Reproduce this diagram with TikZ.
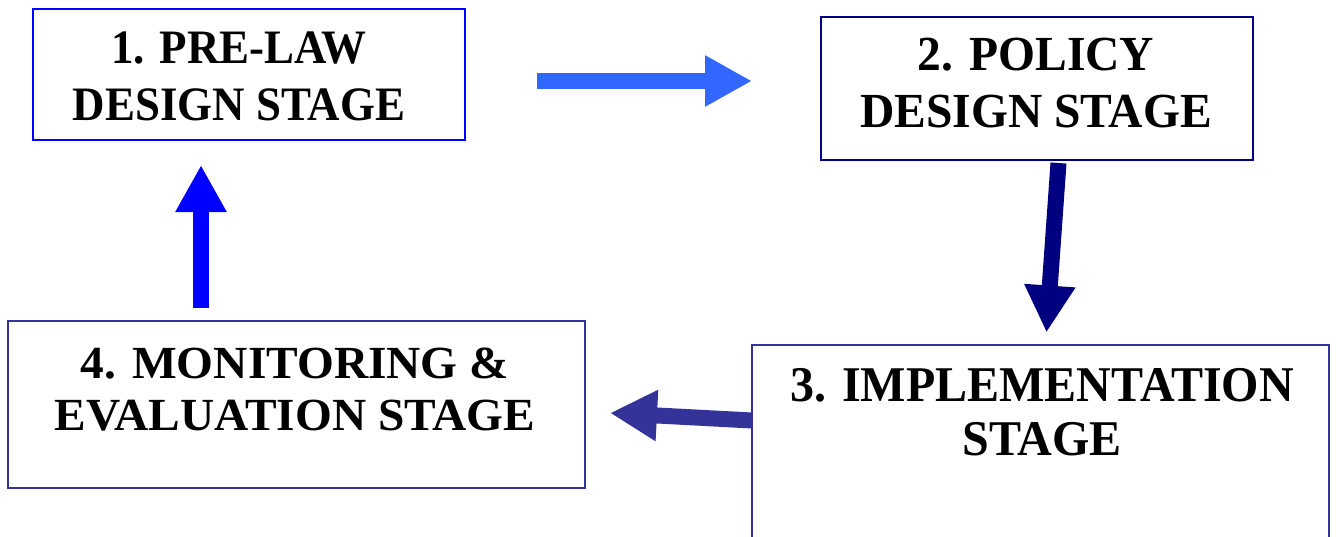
\documentclass[tikz,border=0pt]{standalone}
\usepackage{fontspec}
\setmainfont{Liberation Serif}
\usetikzlibrary{arrows.meta}
\definecolor{bluebox}{HTML}{0000FF}
\definecolor{navybox}{HTML}{000080}
\definecolor{indigobox}{HTML}{333399}
\definecolor{arrowone}{HTML}{3366FF}
\begin{document}
\begin{tikzpicture}[x=1pt,y=-1pt,
  box/.style={draw,line width=2pt,inner sep=0pt,outer sep=0pt,fill=white},
  stagetext/.style={anchor=base,inner sep=0pt,transform shape,font=\bfseries},
  bigarrow/.style={line width=16pt,-{Triangle[length=47pt,width=48pt]}}]
\useasboundingbox (0,0) rectangle (1336,536);
\clip (0,0) rectangle (1336,536);
% boxes
\node[box,draw=bluebox,minimum width=432pt,minimum height=131pt] (b1) at (249,74.5) {};
\node[box,draw=navybox,minimum width=432pt,minimum height=143pt] (b2) at (1037,88.5) {};
\node[box,draw=indigobox,minimum width=577pt,minimum height=215pt] (b3) at (1040.5,452.5) {};
\node[box,draw=indigobox,minimum width=577pt,minimum height=167pt] (b4) at (296.5,404.5) {};
% texts
\node[stagetext,xscale=0.935] (t1) at (239,120) {\fontsize{48}{57}\selectfont\setlength{\tabcolsep}{0pt}\begin{tabular}[b]{c}1. PRE-LAW\\DESIGN STAGE\end{tabular}};
\node[stagetext,xscale=0.97] (t2) at (1036,127) {\fontsize{49}{57}\selectfont\setlength{\tabcolsep}{0pt}\begin{tabular}[b]{c}2. POLICY\\DESIGN STAGE\end{tabular}};
\node[stagetext,xscale=0.96] (t3) at (1042,455) {\fontsize{50}{54}\selectfont\setlength{\tabcolsep}{0pt}\begin{tabular}[b]{c}3. IMPLEMENTATION\\STAGE\end{tabular}};
\node[stagetext,xscale=1.03] (t4) at (295,430) {\fontsize{46}{52}\selectfont\setlength{\tabcolsep}{0pt}\begin{tabular}[b]{c}4. MONITORING \&\\EVALUATION STAGE\end{tabular}};
% arrow end points
\coordinate (a1s) at (537,81);
\coordinate (a1e) at (752,81);
\coordinate (a2s) at (1058.5,163);
\coordinate (a2e) at (1046.5,332.5);
\coordinate (a3s) at (752,420.5);
\coordinate (a3e) at (610,413);
\coordinate (a4s) at (201,308);
\coordinate (a4e) at (201,165);
% arrows
\draw[bigarrow,arrowone] (a1s) -- (a1e);
\draw[bigarrow,navybox] (a2s) -- (a2e);
\draw[bigarrow,indigobox] (a3s) -- (a3e);
\draw[bigarrow,bluebox] (a4s) -- (a4e);
\end{tikzpicture}
\end{document}
